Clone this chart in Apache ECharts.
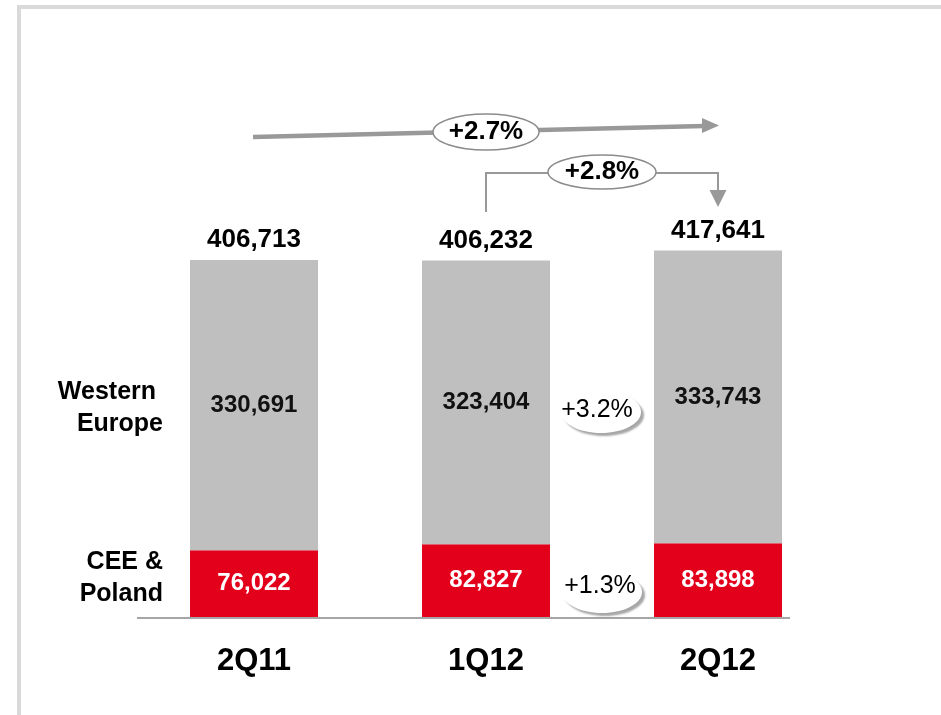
<!DOCTYPE html>
<html>
<head>
<meta charset="utf-8">
<script src="https://cdn.jsdelivr.net/npm/echarts@6/dist/echarts.min.js"></script>
<style>
html,body{margin:0;padding:0;background:#fff;}
#chart{width:941px;height:715px;}
</style>
</head>
<body>
<div id="chart"></div>
<script>
const categories = ['2Q11', '1Q12', '2Q12'];
const westernEurope = [330691, 323404, 333743];
const ceePoland = [76022, 82827, 83898];
const totals = [406713, 406232, 417641];
const seriesLabels = ['Western \nEurope', 'CEE &\nPoland'];
const yoyGrowth = '+2.7%';
const qoqGrowth = '+2.8%';
const westernGrowth = '+3.2%';
const ceeGrowth = '+1.3%';

const FONT = '"Liberation Sans", Arial, sans-serif';
const fmt = v => Number(v).toLocaleString('en-US');

const chart = echarts.init(document.getElementById('chart'), null, {renderer: 'canvas'});

chart.setOption({
  animation: false,
  backgroundColor: '#fff',
  grid: {left: 138, width: 696, top: 222, height: 395},
  xAxis: {
    type: 'category',
    data: categories,
    axisLine: {show: false},
    axisTick: {show: false},
    axisLabel: {fontFamily: FONT, fontSize: 31, fontWeight: 'bold', color: '#000', margin: 29}
  },
  yAxis: {type: 'value', min: 0, max: 450000, show: false, splitLine: {show: false}},
  series: [
    {
      name: 'CEE & Poland', type: 'bar', stack: 'total', barWidth: 128,
      data: ceePoland,
      itemStyle: {color: '#e3001b'},
      label: {show: true, position: 'inside', formatter: p => fmt(p.value),
        fontFamily: FONT, fontSize: 24, fontWeight: 'bold', color: '#fff'}
    },
    {
      name: 'Western Europe', type: 'bar', stack: 'total', barWidth: 128,
      data: westernEurope,
      itemStyle: {color: '#bfbfbf'},
      label: {show: true, position: 'inside', formatter: p => fmt(p.value),
        fontFamily: FONT, fontSize: 24, fontWeight: 'bold', color: '#111'}
    },
    {
      name: 'Total', type: 'line', data: totals, symbol: 'circle', symbolSize: 0,
      showSymbol: true,
      lineStyle: {width: 0, opacity: 0},
      itemStyle: {color: '#000'},
      label: {show: true, position: 'top', distance: 7, formatter: p => fmt(p.value),
        fontFamily: FONT, fontSize: 26, fontWeight: 'bold', color: '#000'}
    }
  ]
});

function px(i, v) { return chart.convertToPixel({gridIndex: 0}, [i, v]); }

const base = px(0, 0);
const b1 = px(1, 0), b2 = px(2, 0);
const midX = (b1[0] + b2[0]) / 2;
const gray = '#999999';

const graphics = [
  {type: 'rect', shape: {x: 19, y: 7, width: 940, height: 720},
   style: {fill: 'none', stroke: '#d9d9d9', lineWidth: 4}, z: 0, silent: true},
  {type: 'line', shape: {x1: 137, y1: base[1] + 1, x2: 790, y2: base[1] + 1},
   style: {stroke: '#a6a6a6', lineWidth: 2}, z: 10},
  {type: 'text', x: 163, y: 408, style: {text: seriesLabels[0], fontFamily: FONT, fontSize: 25,
    fontWeight: 'bold', fill: '#000', align: 'right', verticalAlign: 'middle', lineHeight: 32}},
  {type: 'text', x: 163, y: 578, style: {text: seriesLabels[1], fontFamily: FONT, fontSize: 25,
    fontWeight: 'bold', fill: '#000', align: 'right', verticalAlign: 'middle', lineHeight: 32}},
  {type: 'line', shape: {x1: 253, y1: 137, x2: 704, y2: 126},
   style: {stroke: gray, lineWidth: 4.5}, z: 20},
  {type: 'polygon', shape: {points: [[702, 118], [719, 125.5], [702, 133]]},
   style: {fill: gray}, z: 20},
  {type: 'ellipse', shape: {cx: 486, cy: 132, rx: 53, ry: 18},
   style: {fill: '#fff', stroke: '#8c8c8c', lineWidth: 1.5}, z: 21},
  {type: 'text', x: 486, y: 132, style: {text: yoyGrowth, fontFamily: FONT, fontSize: 26,
    fontWeight: 'bold', fill: '#000', align: 'center', verticalAlign: 'middle'}, z: 22},
  {type: 'polyline', shape: {points: [[b1[0], 212], [b1[0], 173], [b2[0], 173], [b2[0], 192]]},
   style: {stroke: gray, lineWidth: 2, fill: 'none'}, z: 20},
  {type: 'polygon', shape: {points: [[b2[0] - 8.5, 190], [b2[0] + 8.5, 190], [b2[0], 207]]},
   style: {fill: gray}, z: 20},
  {type: 'ellipse', shape: {cx: midX, cy: 172, rx: 54, ry: 17},
   style: {fill: '#fff', stroke: '#8c8c8c', lineWidth: 1.5}, z: 21},
  {type: 'text', x: midX, y: 172, style: {text: qoqGrowth, fontFamily: FONT, fontSize: 26,
    fontWeight: 'bold', fill: '#000', align: 'center', verticalAlign: 'middle'}, z: 22},
  {type: 'ellipse', shape: {cx: midX - 1, cy: 412, rx: 40, ry: 21},
   style: {fill: '#fff', shadowBlur: 2, shadowOffsetX: 3, shadowOffsetY: 3,
     shadowColor: 'rgba(0,0,0,0.35)'}, z: 21},
  {type: 'text', x: midX - 5, y: 410, style: {text: westernGrowth, fontFamily: FONT, fontSize: 25,
    fill: '#000', align: 'center', verticalAlign: 'middle'}, z: 22},
  {type: 'ellipse', shape: {cx: midX, cy: 592, rx: 40, ry: 21},
   style: {fill: '#fff', shadowBlur: 2, shadowOffsetX: 3, shadowOffsetY: 3,
     shadowColor: 'rgba(0,0,0,0.35)'}, z: 21},
  {type: 'text', x: midX - 2, y: 586, style: {text: ceeGrowth, fontFamily: FONT, fontSize: 25,
    fill: '#000', align: 'center', verticalAlign: 'middle'}, z: 22}
];

chart.setOption({graphic: graphics});
</script>
</body>
</html>
